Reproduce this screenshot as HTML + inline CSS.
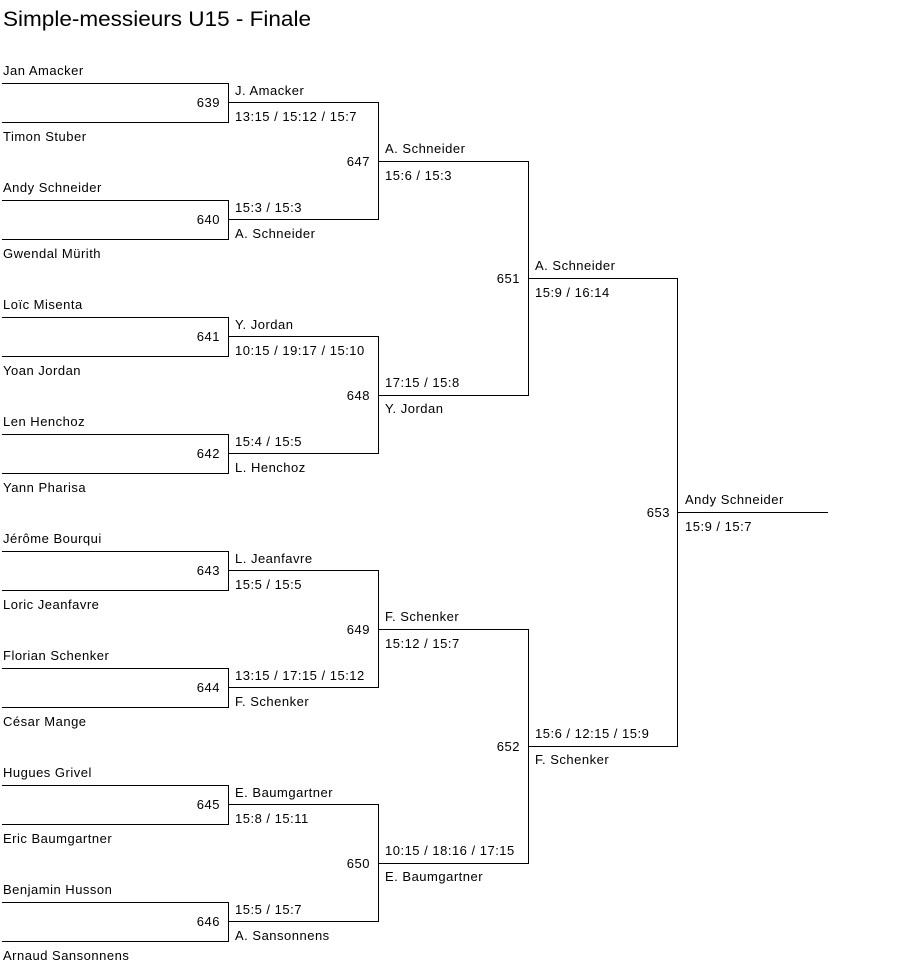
<!DOCTYPE html>
<html><head><meta charset="utf-8"><style>
body{margin:0;background:#fff;}
svg{display:block;font-family:"Liberation Sans",Arial,sans-serif;font-size:13px;fill:#000;letter-spacing:0.5px;}
line{stroke:#000;stroke-width:1;shape-rendering:crispEdges;}
</style></head><body>
<svg width="903" height="972" xmlns="http://www.w3.org/2000/svg">
<text x="3" y="26" font-size="21" letter-spacing="0" textLength="308" lengthAdjust="spacingAndGlyphs">Simple-messieurs U15 - Finale</text>
<g id="lines">
<line x1="2" y1="83.5" x2="228" y2="83.5"/><line x1="2" y1="122.5" x2="228" y2="122.5"/><line x1="228.5" y1="83" x2="228.5" y2="123"/>
<line x1="2" y1="200.5" x2="228" y2="200.5"/><line x1="2" y1="239.5" x2="228" y2="239.5"/><line x1="228.5" y1="200" x2="228.5" y2="240"/>
<line x1="2" y1="317.5" x2="228" y2="317.5"/><line x1="2" y1="356.5" x2="228" y2="356.5"/><line x1="228.5" y1="317" x2="228.5" y2="357"/>
<line x1="2" y1="434.5" x2="228" y2="434.5"/><line x1="2" y1="473.5" x2="228" y2="473.5"/><line x1="228.5" y1="434" x2="228.5" y2="474"/>
<line x1="2" y1="551.5" x2="228" y2="551.5"/><line x1="2" y1="590.5" x2="228" y2="590.5"/><line x1="228.5" y1="551" x2="228.5" y2="591"/>
<line x1="2" y1="668.5" x2="228" y2="668.5"/><line x1="2" y1="707.5" x2="228" y2="707.5"/><line x1="228.5" y1="668" x2="228.5" y2="708"/>
<line x1="2" y1="785.5" x2="228" y2="785.5"/><line x1="2" y1="824.5" x2="228" y2="824.5"/><line x1="228.5" y1="785" x2="228.5" y2="825"/>
<line x1="2" y1="902.5" x2="228" y2="902.5"/><line x1="2" y1="941.5" x2="228" y2="941.5"/><line x1="228.5" y1="902" x2="228.5" y2="942"/>
<line x1="228" y1="102.5" x2="378" y2="102.5"/><line x1="228" y1="219.5" x2="378" y2="219.5"/><line x1="378.5" y1="102" x2="378.5" y2="220"/>
<line x1="228" y1="336.5" x2="378" y2="336.5"/><line x1="228" y1="453.5" x2="378" y2="453.5"/><line x1="378.5" y1="336" x2="378.5" y2="454"/>
<line x1="228" y1="570.5" x2="378" y2="570.5"/><line x1="228" y1="687.5" x2="378" y2="687.5"/><line x1="378.5" y1="570" x2="378.5" y2="688"/>
<line x1="228" y1="804.5" x2="378" y2="804.5"/><line x1="228" y1="921.5" x2="378" y2="921.5"/><line x1="378.5" y1="804" x2="378.5" y2="922"/>
<line x1="378" y1="161.5" x2="528" y2="161.5"/><line x1="378" y1="395.5" x2="528" y2="395.5"/><line x1="528.5" y1="161" x2="528.5" y2="396"/>
<line x1="378" y1="629.5" x2="528" y2="629.5"/><line x1="378" y1="863.5" x2="528" y2="863.5"/><line x1="528.5" y1="629" x2="528.5" y2="864"/>
<line x1="528" y1="278.5" x2="678" y2="278.5"/><line x1="528" y1="746.5" x2="678" y2="746.5"/><line x1="677.5" y1="278" x2="677.5" y2="747"/>
<line x1="678" y1="512.5" x2="828" y2="512.5"/>
</g>
<text x="3" y="75">Jan Amacker</text><text x="3" y="141">Timon Stuber</text>
<text x="3" y="192">Andy Schneider</text><text x="3" y="258">Gwendal Mürith</text>
<text x="3" y="309">Loïc Misenta</text><text x="3" y="375">Yoan Jordan</text>
<text x="3" y="426">Len Henchoz</text><text x="3" y="492">Yann Pharisa</text>
<text x="3" y="543">Jérôme Bourqui</text><text x="3" y="609">Loric Jeanfavre</text>
<text x="3" y="660">Florian Schenker</text><text x="3" y="726">César Mange</text>
<text x="3" y="777">Hugues Grivel</text><text x="3" y="843">Eric Baumgartner</text>
<text x="3" y="894">Benjamin Husson</text><text x="3" y="960">Arnaud Sansonnens</text>
<g text-anchor="end">
<text x="220" y="107">639</text><text x="220" y="224">640</text><text x="220" y="341">641</text><text x="220" y="458">642</text>
<text x="220" y="575">643</text><text x="220" y="692">644</text><text x="220" y="809">645</text><text x="220" y="926">646</text>
<text x="370" y="166">647</text><text x="370" y="400">648</text><text x="370" y="634">649</text><text x="370" y="868">650</text>
<text x="520" y="283">651</text><text x="520" y="751">652</text>
<text x="670" y="517">653</text>
</g>
<text x="235" y="95">J. Amacker</text><text x="235" y="121">13:15 / 15:12 / 15:7</text>
<text x="235" y="212">15:3 / 15:3</text><text x="235" y="238">A. Schneider</text>
<text x="235" y="329">Y. Jordan</text><text x="235" y="355">10:15 / 19:17 / 15:10</text>
<text x="235" y="446">15:4 / 15:5</text><text x="235" y="472">L. Henchoz</text>
<text x="235" y="563">L. Jeanfavre</text><text x="235" y="589">15:5 / 15:5</text>
<text x="235" y="680">13:15 / 17:15 / 15:12</text><text x="235" y="706">F. Schenker</text>
<text x="235" y="797">E. Baumgartner</text><text x="235" y="823">15:8 / 15:11</text>
<text x="235" y="914">15:5 / 15:7</text><text x="235" y="940">A. Sansonnens</text>
<text x="385" y="153">A. Schneider</text><text x="385" y="180">15:6 / 15:3</text>
<text x="385" y="387">17:15 / 15:8</text><text x="385" y="413">Y. Jordan</text>
<text x="385" y="621">F. Schenker</text><text x="385" y="648">15:12 / 15:7</text>
<text x="385" y="855">10:15 / 18:16 / 17:15</text><text x="385" y="881">E. Baumgartner</text>
<text x="535" y="270">A. Schneider</text><text x="535" y="297">15:9 / 16:14</text>
<text x="535" y="738">15:6 / 12:15 / 15:9</text><text x="535" y="764">F. Schenker</text>
<text x="685" y="504">Andy Schneider</text><text x="685" y="531">15:9 / 15:7</text>
</svg>
</body></html>
